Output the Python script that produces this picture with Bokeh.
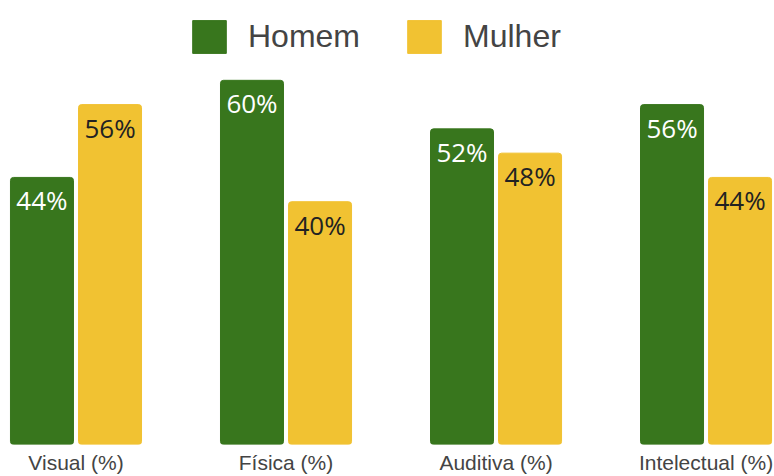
from bokeh.plotting import figure
from bokeh.models import ColumnDataSource, Range1d, FixedTicker, Legend, LegendItem
from bokeh.transform import dodge
from bokeh.core.properties import value
from bokeh.embed import file_html
from bokeh.resources import INLINE

categories = ["Visual (%)", "Física (%)", "Auditiva (%)", "Intelectual (%)"]
homem = [44, 60, 52, 56]
mulher = [56, 40, 48, 44]
series_names = ["Homem", "Mulher"]

GREEN = "#38761d"
YELLOW = "#f1c232"

idx = list(range(len(categories)))
src = ColumnDataSource(dict(
    x=idx,
    homem=homem,
    mulher=mulher,
    homem_lbl=[f"{v}%" for v in homem],
    mulher_lbl=[f"{v}%" for v in mulher],
))

p = figure(width=774, height=476, output_backend="svg", toolbar_location=None,
           x_range=Range1d(-0.3595, 3.326), y_range=Range1d(0, 73.15),
           min_border=0, min_border_left=0, min_border_right=0,
           min_border_top=0, min_border_bottom=0)
p.outline_line_color = None
p.xgrid.visible = False
p.ygrid.visible = False
p.yaxis.visible = False
p.background_fill_color = "white"
p.border_fill_color = "white"

r1 = p.vbar(x=dodge("x", -0.162, range=p.x_range), top="homem", width=0.3, source=src,
            fill_color=GREEN, line_color=GREEN, border_radius=3)
r2 = p.vbar(x=dodge("x", 0.162, range=p.x_range), top="mulher", width=0.3, source=src,
            fill_color=YELLOW, line_color=YELLOW, border_radius=3)

p.text(x=dodge("x", -0.162, range=p.x_range), y="homem", text="homem_lbl", source=src,
       text_align="center", text_baseline="middle", y_offset=23,
       text_font=value("Open Sans"), text_font_size="26px", text_color="white")
p.text(x=dodge("x", 0.162, range=p.x_range), y="mulher", text="mulher_lbl", source=src,
       text_align="center", text_baseline="middle", y_offset=23,
       text_font=value("Open Sans"), text_font_size="26px", text_color="#222222")

ax = p.xaxis[0]
ax.ticker = FixedTicker(ticks=idx)
ax.major_label_overrides = {i: c for i, c in zip(idx, categories)}
ax.axis_line_color = None
ax.major_tick_line_color = None
ax.minor_tick_line_color = None
ax.major_tick_out = 0
ax.major_tick_in = 0
ax.major_label_standoff = 6
ax.major_label_text_font = "Liberation Sans"
ax.major_label_text_font_size = "21px"
ax.major_label_text_color = "#444444"

legend = Legend(items=[LegendItem(label=series_names[0], renderers=[r1]),
                       LegendItem(label=series_names[1], renderers=[r2])],
                orientation="horizontal", location=(188, 387),
                glyph_width=42, glyph_height=41, label_standoff=18, spacing=43,
                padding=12, margin=0,
                label_text_font="Liberation Sans", label_text_font_size="32px",
                label_text_color="#444444",
                border_line_color=None, background_fill_color="white",
                background_fill_alpha=1.0)
p.add_layout(legend, "center")

open("out.html", "w").write(file_html(p, INLINE))
